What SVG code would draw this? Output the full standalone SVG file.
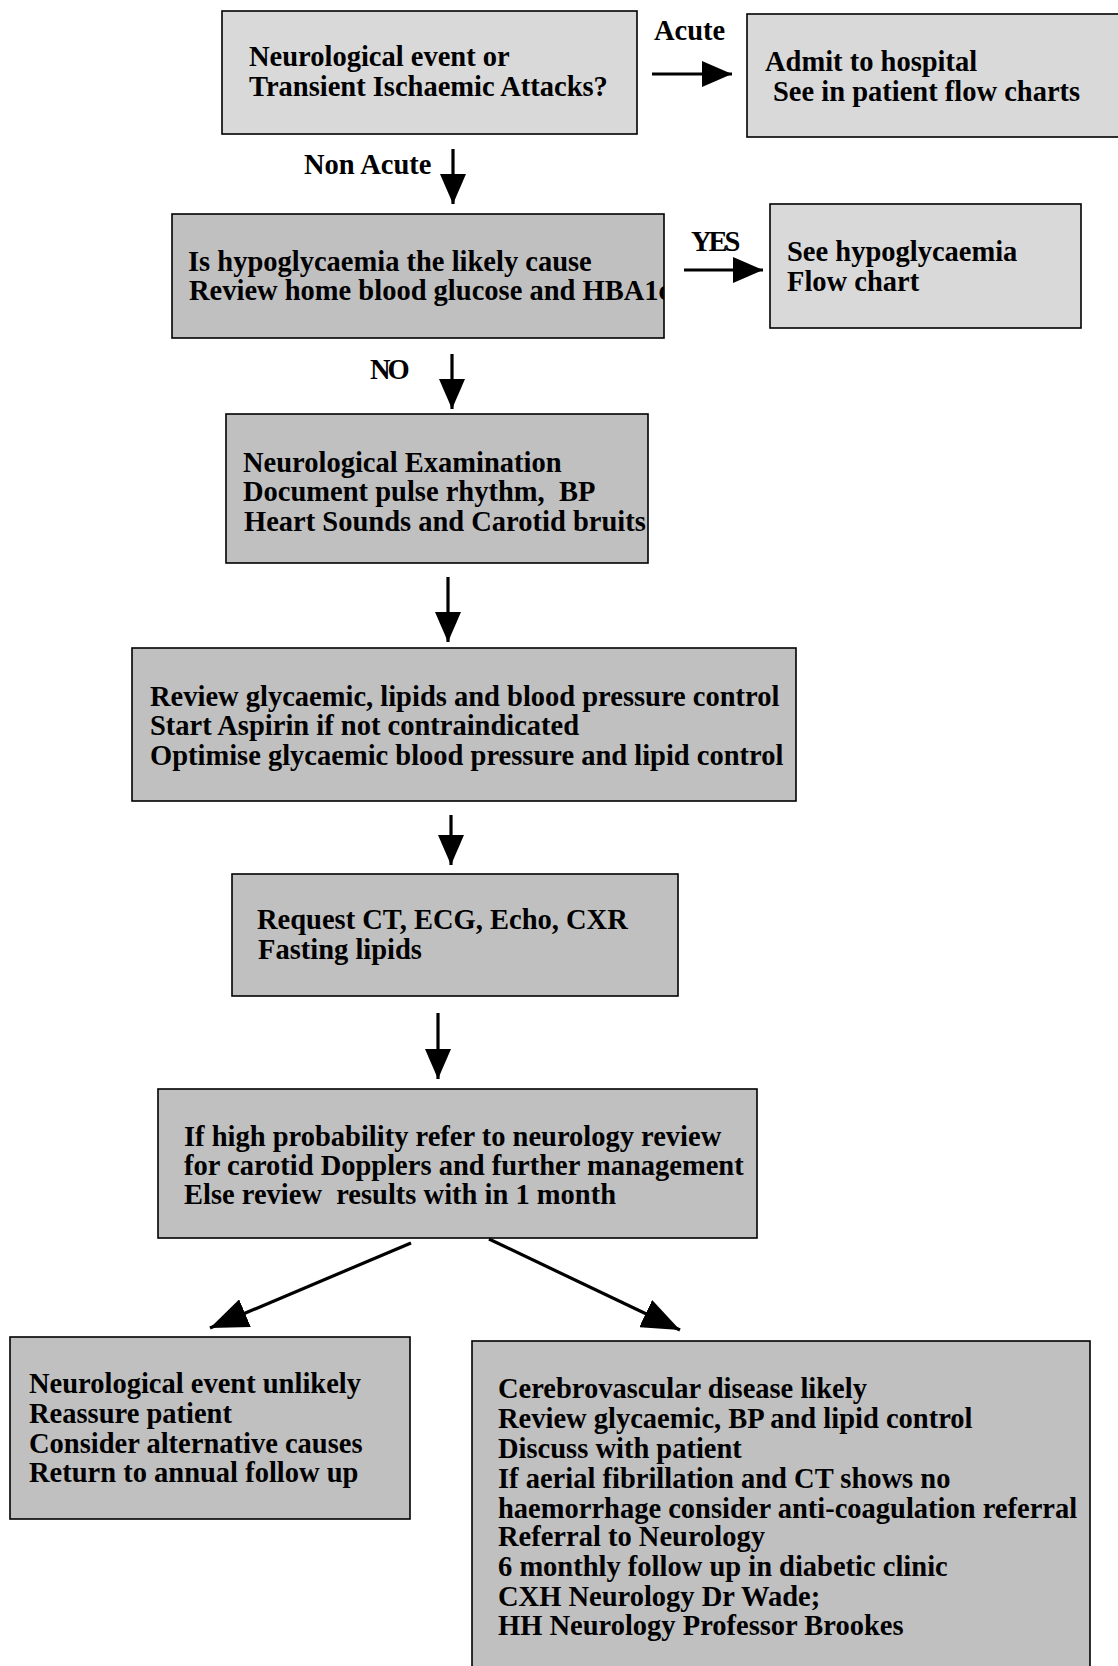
<svg xmlns="http://www.w3.org/2000/svg" width="1118" height="1666" viewBox="0 0 1118 1666">
<style>
.box{stroke:#000;stroke-width:1.6}
.light{fill:#d9d9d9}
.dark{fill:#c0c0c0}
text{font-family:"Liberation Serif","Times New Roman",serif;font-weight:bold;font-size:28.5px;fill:#000;white-space:pre}
.cond{letter-spacing:-3px}
.conn line{stroke:#000;stroke-width:3.2}
</style>
<defs>
<marker id="ah" viewBox="0 0 30 26" refX="30" refY="13" markerWidth="30" markerHeight="26" markerUnits="userSpaceOnUse" orient="auto"><path d="M0,0 L30,13 L0,26 z" fill="#000"/></marker>
<marker id="ahb" viewBox="0 0 38 30" refX="38" refY="15" markerWidth="38" markerHeight="30" markerUnits="userSpaceOnUse" orient="auto"><path d="M0,0 L38,15 L0,30 z" fill="#000"/></marker>
<clipPath id="c2"><rect x="172" y="214" width="492" height="124"/></clipPath>
</defs>
<rect width="1118" height="1666" fill="#fff"/>
<g id="n1"><rect class="box light" x="222" y="11" width="415" height="123"/>
<text x="249" y="66">Neurological event or</text><text x="249" y="96">Transient Ischaemic Attacks?</text></g>
<g id="n2"><rect class="box light" x="747" y="14" width="400" height="123"/>
<text x="765" y="71">Admit to hospital</text><text x="773" y="101">See in patient flow charts</text></g>
<g id="n3"><rect class="box dark" x="172" y="214" width="492" height="124"/>
<g clip-path="url(#c2)"><text x="188" y="271">Is hypoglycaemia the likely cause</text><text x="189" y="300">Review home blood glucose and HBA1c</text></g></g>
<g id="n4"><rect class="box light" x="770" y="204" width="311" height="124"/>
<text x="787" y="261">See hypoglycaemia</text><text x="787" y="291">Flow chart</text></g>
<g id="n5"><rect class="box dark" x="226" y="414" width="422" height="149"/>
<text x="243" y="472">Neurological Examination</text><text x="243" y="501" xml:space="preserve">Document pulse rhythm,  BP</text><text x="244" y="531">Heart Sounds and Carotid bruits</text></g>
<g id="n6"><rect class="box dark" x="132" y="648" width="664" height="153"/>
<text x="150" y="706">Review glycaemic, lipids and blood pressure control</text><text x="150" y="735">Start Aspirin if not contraindicated</text><text x="150" y="765">Optimise glycaemic blood pressure and lipid control</text></g>
<g id="n7"><rect class="box dark" x="232" y="874" width="446" height="122"/>
<text x="257" y="929">Request CT, ECG, Echo, CXR</text><text x="258" y="959">Fasting lipids</text></g>
<g id="n8"><rect class="box dark" x="158" y="1089" width="599" height="149"/>
<text x="184" y="1146">If high probability refer to neurology review</text><text x="184" y="1175">for carotid Dopplers and further management</text><text x="184" y="1204" xml:space="preserve">Else review  results with in 1 month</text></g>
<g id="n9"><rect class="box dark" x="10" y="1337" width="400" height="182"/>
<text x="29" y="1393">Neurological event unlikely</text><text x="29" y="1423">Reassure patient</text><text x="29" y="1453">Consider alternative causes</text><text x="29" y="1482">Return to annual follow up</text></g>
<g id="n10"><rect class="box dark" x="472" y="1341" width="618" height="400"/>
<text x="498" y="1398">Cerebrovascular disease likely</text><text x="498" y="1428">Review glycaemic, BP and lipid control</text><text x="498" y="1458">Discuss with patient</text><text x="498" y="1488">If aerial fibrillation and CT shows no</text><text x="498" y="1518">haemorrhage consider anti-coagulation referral</text><text x="498" y="1546">Referral to Neurology</text><text x="498" y="1576">6 monthly follow up in diabetic clinic</text><text x="498" y="1606">CXH Neurology Dr Wade;</text><text x="498" y="1635">HH Neurology Professor Brookes</text></g>
<g id="connectors" class="conn">
<line x1="652" y1="74" x2="732" y2="74" marker-end="url(#ah)"/>
<line x1="453" y1="149" x2="453" y2="204" marker-end="url(#ah)"/>
<line x1="684" y1="270" x2="763" y2="270" marker-end="url(#ah)"/>
<line x1="452" y1="354" x2="452" y2="409" marker-end="url(#ah)"/>
<line x1="448" y1="577" x2="448" y2="642" marker-end="url(#ah)"/>
<line x1="451" y1="815" x2="451" y2="865" marker-end="url(#ah)"/>
<line x1="438" y1="1013" x2="438" y2="1079" marker-end="url(#ah)"/>
<line x1="411" y1="1243" x2="210" y2="1328" marker-end="url(#ahb)"/>
<line x1="489" y1="1239" x2="680" y2="1330" marker-end="url(#ahb)"/>
</g>
<g id="labels">
<text x="654" y="40">Acute</text>
<text x="304" y="174">Non Acute</text>
<text x="691" y="251" class="cond">YES</text>
<text x="370" y="379" class="cond">NO</text>
</g>
</svg>
